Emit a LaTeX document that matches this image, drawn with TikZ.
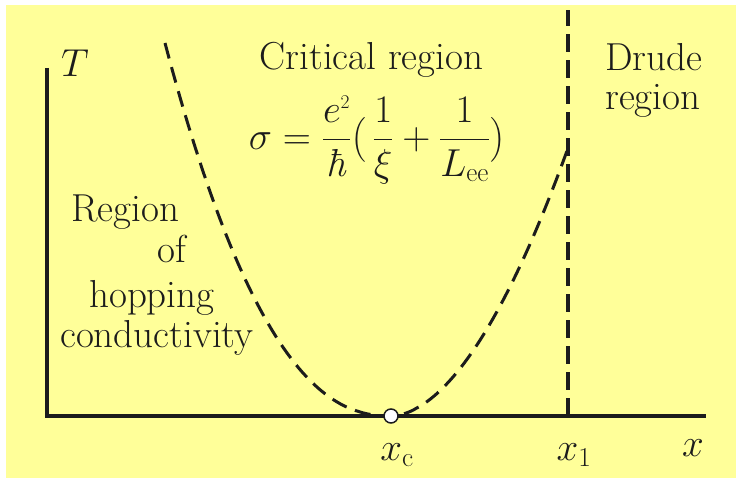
\documentclass[tikz,border=0pt]{standalone}
\usepackage{fix-cm}
\usepackage{amsmath}
\usepackage{tikz}
\definecolor{bgyellow}{RGB}{255,255,153}
\definecolor{ink}{RGB}{28,28,28}

\begin{document}
\begin{tikzpicture}[x=1pt, y=1pt,
	axis/.style={draw=ink, line width=4pt},
	curvedash/.style={draw=ink, line width=3pt, dash pattern=on 16pt off 9pt},
	borderdash/.style={draw=ink, line width=4pt, dash pattern=on 18pt off 8pt},
	lbl/.style={text=ink, inner sep=0pt, font=\fontsize{39}{44}\selectfont}]
	\clip (0,0) rectangle (736,478);
	\fill[bgyellow] (6,0) rectangle (736,473);
	%Achsen
	\coordinate (O) at (47,62);
	\coordinate (Ttop) at (47,410);
	\coordinate (xend) at (706,62);
	\coordinate (xone) at (568,62);
	\coordinate (xonetop) at (568,468);
	\draw[axis] (Ttop) -- (O) -- (xend);
	%Grenze zum Drude-Bereich
	\draw[borderdash] (xone) -- (xonetop);
	%kritische Kurve
	\draw[curvedash] plot[domain=226:1, samples=60] ({391-\x},{62+373*(\x/226)^2.29})
		-- plot[domain=1:177, samples=60] ({391+\x},{62+268*(\x/177)^1.837});
	\node[circle, draw=ink, fill=white, line width=1.5pt, minimum size=14pt, inner sep=0pt] (xc) at (391,62) {};
	%Beschriftung
	\node[lbl] (Tlab) at (75,415) {$T$};
	\node[lbl, anchor=base] (xclab) at (397,17) {$x_{\mathrm{c}}$};
	\node[lbl, anchor=base] (xonelab) at (574,17) {$x_{1}$};
	\node[lbl, anchor=base] (xlab) at (693,21) {$x$};
	\node[lbl, anchor=base] (crit) at (371.5,408) {Critical region};
	\node[lbl, anchor=base west] (drude) at (605,407) {Drude};
	\node[lbl, anchor=base west] (drudereg) at ([yshift=-39pt]drude.base west) {region};
	\node[lbl, anchor=base west] (hopa) at (71,256) {Region};
	\node[lbl, anchor=base west] (hopb) at (157,215) {of};
	\node[lbl, anchor=base west] (hopc) at (89,170) {hopping};
	\node[lbl, anchor=base west] (hopd) at (60,130) {conductivity};
	\node[lbl] (sigma) at (377,338) {$\displaystyle \sigma = \frac{e^{\scriptscriptstyle 2}}{\text{\itshape ħ}}\bigl(\,\frac{1}{\xi} + \frac{1}{L_{\mathrm{ee}}}\bigr)$};
\end{tikzpicture}
\end{document}
